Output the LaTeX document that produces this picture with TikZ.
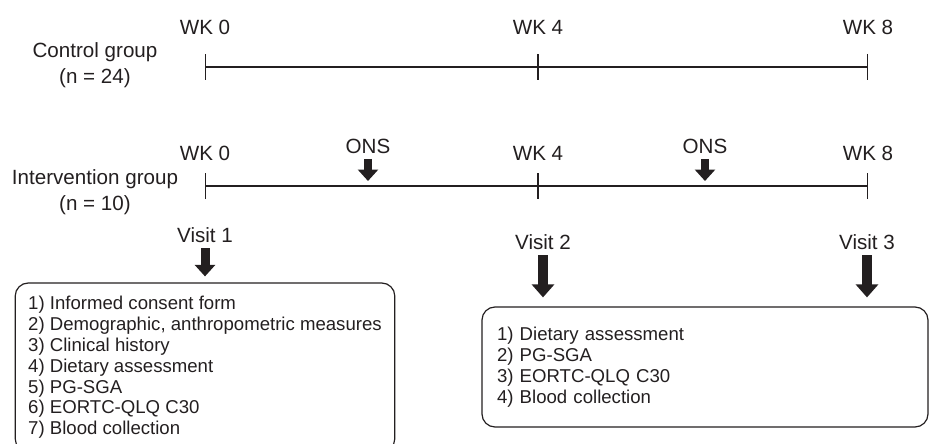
\documentclass[tikz,border=0pt]{standalone}
\usepackage{fontspec}
\setmainfont{Liberation Sans}
\usetikzlibrary{positioning,arrows.meta}
\definecolor{figink}{HTML}{231F20}
\newcommand{\lblfont}{\fontsize{20.6}{26}\selectfont}
\newcommand{\listfont}{\fontsize{18.6}{20.8}\selectfont}
\tikzset{
  lbl/.style={font=\lblfont,text=figink,inner sep=0pt,align=center},
  tl/.style={draw=figink,line width=1.2pt,{Bar[width=26pt]}-{Bar[width=26pt]}},
  blk/.style={draw=figink,line width=8.5pt,-{Triangle[length=11.5pt,width=20pt]}},
  bigblk/.style={draw=figink,line width=10pt,-{Triangle[length=13pt,width=22pt]}},
  listbox/.style={draw=figink,line width=1.2pt,rounded corners=13pt,align=left,
                  font=\listfont,text=figink,inner ysep=0pt},
}

\begin{document}
\begin{tikzpicture}[x=1pt,y=1pt]
\useasboundingbox (0,0) rectangle (930,-444);

\coordinate (c0) at (205,-67);
\coordinate (c4) at (538,-67);
\coordinate (c8) at (868,-67);
\node[lbl] (cg) at (95,-65) {Control group\\(n = 24)};
\node[lbl] (cw0) at (205,-27) {WK 0};
\node[lbl] (cw4) at (538,-27) {WK 4};
\node[lbl] (cw8) at (868,-27) {WK 8};
\draw[tl] (c0) -- (c4);
\draw[tl] (c4) -- (c8);

\coordinate (i0) at (205,-186);
\coordinate (i4) at (538,-186);
\coordinate (i8) at (868,-186);
\node[lbl] (ig) at (95,-192) {Intervention group\\(n = 10)};
\node[lbl] (iw0) at (205,-153) {WK 0};
\node[lbl] (iw4) at (538,-153) {WK 4};
\node[lbl] (iw8) at (868,-153) {WK 8};
\draw[tl] (i0) -- (i4);
\draw[tl] (i4) -- (i8);

\node[lbl] (ons1) at (368,-146) {ONS};
\node[lbl] (ons2) at (705,-146) {ONS};
\draw[blk,shorten <=5.5pt,shorten >=5pt] (ons1) -- (ons1 |- i0);
\draw[blk,shorten <=5.5pt,shorten >=5pt] (ons2) -- (ons2 |- i0);

\node[listbox,inner xsep=13pt,minimum width=378pt,minimum height=168.8pt] (box1) at (205,-367.4)
  {1) Informed consent form\\2) Demographic, anthropometric measures\\3) Clinical history\\
   4) Dietary assessment\\5) PG-SGA\\6) EORTC-QLQ C30\\7) Blood collection};
\node[listbox,text width=416pt,inner xsep=15pt,minimum height=120pt] (box2) at (705,-367)
  {1) Dietary assessment\\2) PG-SGA\\3) EORTC-QLQ C30\\4) Blood collection};

\node[lbl] (v1) at (205,-235) {Visit 1};
\node[lbl] (v2) at (543,-242) {Visit 2};
\node[lbl] (v3) at (867,-242) {Visit 3};
\draw[blk,line width=9pt,shorten <=5.7pt,shorten >=6pt] (v1) -- (v1 |- box1.north);
\draw[bigblk,shorten <=5.7pt,shorten >=9pt] (v2) -- (v2 |- box2.north);
\draw[bigblk,shorten <=5.7pt,shorten >=9pt] (v3) -- (v3 |- box2.north);
\end{tikzpicture}
\end{document}
